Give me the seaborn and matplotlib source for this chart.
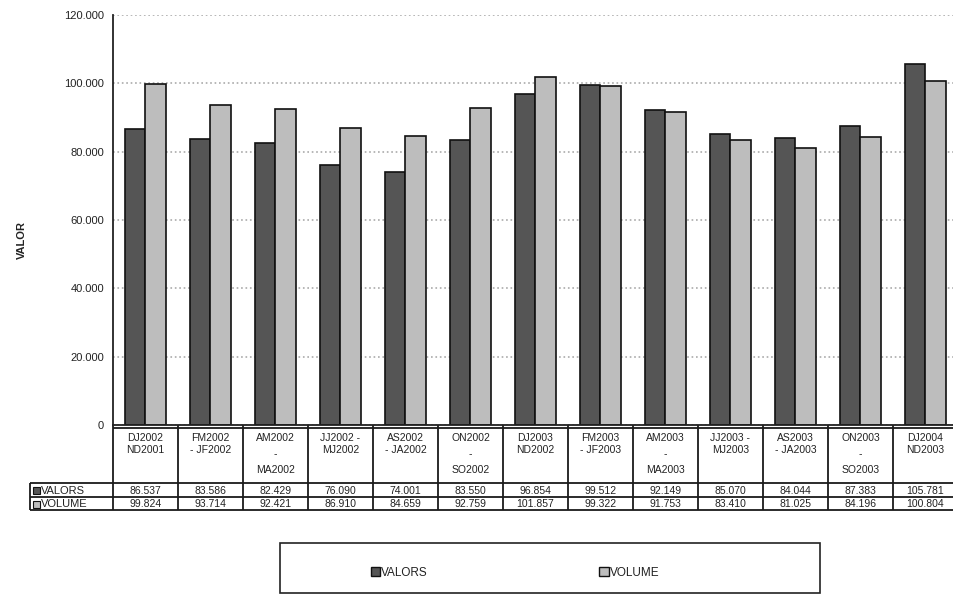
import pandas as pd
import numpy as np
import matplotlib.pyplot as plt
import matplotlib.transforms as mtransforms
import seaborn as sns
from matplotlib.patches import Rectangle, Patch

# Data
periods = ["DJ2002\nND2001", "FM2002\n- JF2002", "AM2002\n-\nMA2002", "JJ2002 -\nMJ2002",
           "AS2002\n- JA2002", "ON2002\n-\nSO2002", "DJ2003\nND2002", "FM2003\n- JF2003",
           "AM2003\n-\nMA2003", "JJ2003 -\nMJ2003", "AS2003\n- JA2003", "ON2003\n-\nSO2003",
           "DJ2004\nND2003"]
valors = [86537, 83586, 82429, 76090, 74001, 83550, 96854, 99512, 92149, 85070, 84044, 87383, 105781]
volume = [99824, 93714, 92421, 86910, 84659, 92759, 101857, 99322, 91753, 83410, 81025, 84196, 100804]
series = ["VALORS", "VOLUME"]
colors = {"VALORS": "#555555", "VOLUME": "#bdbdbd"}

df = pd.DataFrame({"period": periods * 2,
                   "serie": ["VALORS"] * len(periods) + ["VOLUME"] * len(periods),
                   "valor": valors + volume})

sns.set_style("white")
plt.rcParams["font.family"] = ["Liberation Sans", "DejaVu Sans"]
txt_col = "#222222"

fig = plt.figure(figsize=(9.54, 5.94), dpi=100)
W, H = 954, 594
ax_left, ax_right, ax_top, ax_bot = 113, 958, 15, 425
ax = fig.add_axes([ax_left / W, 1 - ax_bot / H, (ax_right - ax_left) / W, (ax_bot - ax_top) / H])

sns.barplot(data=df, x="period", y="valor", hue="serie", palette=colors, width=0.64,
            edgecolor="#111111", linewidth=1.2, legend=False, ax=ax)

ax.set_ylim(0, 120000)
ax.set_xlim(-0.5, len(periods) - 0.5)
ax.set_yticks(np.arange(0, 120001, 20000))
ax.set_yticklabels(["0" if v == 0 else f"{v // 1000}.000" for v in range(0, 120001, 20000)],
                   fontsize=8, color=txt_col)
ax.tick_params(axis="y", length=3, color="#222222")
ax.set_xticks([])
ax.set_xlabel("")
ax.set_ylabel("")
ax.yaxis.grid(True, color="#aaaaaa", linestyle=":", linewidth=1.2)
ax.set_axisbelow(True)
for s in ["top", "right"]:
    ax.spines[s].set_visible(False)
for s in ["left", "bottom"]:
    ax.spines[s].set_color("#222222")
    ax.spines[s].set_linewidth(1.3)

fig.text(22 / W, 1 - 240 / H, "VALOR", rotation=90, fontsize=8, fontweight="bold",
         ha="center", va="center", color=txt_col)

# Data table under the chart (columns follow the category axis)
fy = lambda py: 1 - py / H
blend = mtransforms.blended_transform_factory(ax.transData, fig.transFigure)
fmt = lambda v: f"{v // 1000}.{v % 1000:03d}"
n = len(periods)
lkw = dict(color="#1a1a1a", linewidth=1.3, clip_on=False, solid_capstyle="butt")

for i in range(n + 1):
    ax.plot([i - 0.5, i - 0.5], [fy(425), fy(510)], transform=blend, **lkw)
for py in [428, 483, 497, 510]:
    ax.plot([-0.5, n - 0.5], [fy(py), fy(py)], transform=blend, **lkw)
for py in [483, 497, 510]:
    ax.plot([30 / W, ax_left / W], [fy(py), fy(py)], transform=fig.transFigure, **lkw)
ax.plot([30 / W, 30 / W], [fy(483), fy(510)], transform=fig.transFigure, **lkw)

for i, lab in enumerate(periods):
    three = lab.count("\n") == 2
    ax.text(i, fy(433), lab, transform=blend, ha="center", va="top", fontsize=7.5,
            linespacing=1.75 if three else 1.25, color=txt_col, clip_on=False)
    ax.text(i, fy(490.5), fmt(valors[i]), transform=blend, ha="center", va="center",
            fontsize=7.5, color=txt_col, clip_on=False)
    ax.text(i, fy(504), fmt(volume[i]), transform=blend, ha="center", va="center",
            fontsize=7.5, color=txt_col, clip_on=False)

# row labels with small keys
for k, s in enumerate(series):
    yc = 490.5 + k * 13.5
    fig.patches.append(Rectangle((33 / W, fy(yc + 3.5)), 7 / W, 7 / H, transform=fig.transFigure,
                                 facecolor=colors[s], edgecolor="#111111", linewidth=0.8))
    fig.text(41 / W, fy(yc), s, fontsize=8, ha="left", va="center", color=txt_col)

# legend box
fig.patches.append(Rectangle((280 / W, fy(593)), 540 / W, 50 / H, transform=fig.transFigure,
                             facecolor="white", edgecolor="#222222", linewidth=1.2))
handles = [Patch(facecolor=colors[s], edgecolor="#111111") for s in series]
fig.legend(handles, series, loc="center left", bbox_to_anchor=(360 / W, fy(573)), ncol=2,
           frameon=False, fontsize=8.5, handlelength=0.8, handleheight=0.8, handletextpad=0.1,
           columnspacing=14.5, labelcolor=txt_col)

fig.savefig("out.png", dpi=100)
